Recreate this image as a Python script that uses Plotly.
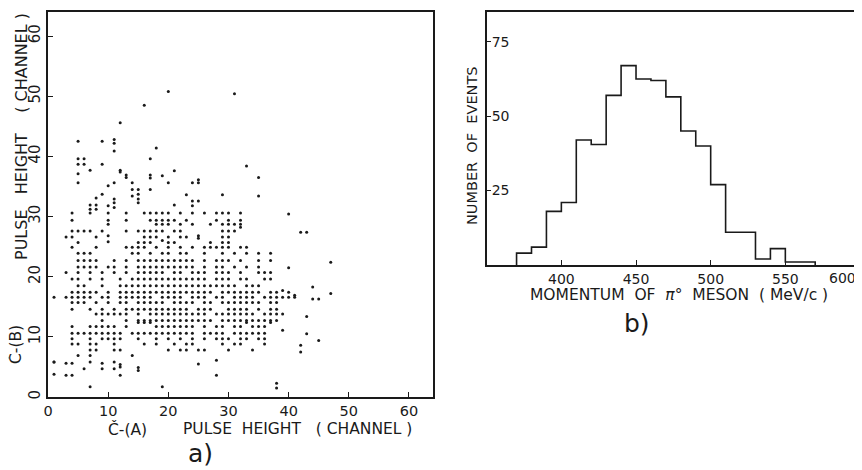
import plotly.graph_objects as go

# ---------------- panel a) scatter data (channel A, channel B) ----------------
chan_a = [
    20, 31, 16, 12, 5, 9, 11, 11, 11, 18, 5, 6, 5, 6, 9, 17, 33, 7, 12, 12, 21, 5, 5,
    13, 13, 17, 17, 19, 35, 10, 11, 20, 24, 25, 25, 14, 14, 14, 15, 15, 15, 15, 17,
    11, 11, 9, 8, 23, 29, 35, 24, 24, 25, 7, 8, 7, 8, 10, 11, 21,
    40, 42, 43, 47, 47, 40, 44, 44, 45, 43, 43, 45, 42, 42, 39, 38, 38, 19, 7, 1, 1,
    # row ~30.6
    4, 7, 10, 13, 16, 17, 18, 19, 20, 22, 24, 26, 28, 29, 30, 32,
    # row ~29.4
    4, 10, 13, 17, 18, 19, 20, 21, 23, 28, 30, 32,
    # row ~28.7
    10, 18, 19, 20, 22, 24, 27, 29, 30, 31, 32, 32,
    # row ~27.6
    4, 5, 6, 7, 9, 13, 15, 16, 17, 18, 19, 21, 22, 29, 30, 31,
    # row ~26.6
    3, 4, 8, 10, 10, 16, 17, 18, 19, 20, 22, 23, 25, 25, 29, 30,
    # row ~25.7
    5, 15, 16, 17, 20, 21, 27, 29, 30,
    # row ~24.9
    4, 8, 13, 14, 15, 16, 18, 20, 22, 24, 26, 27, 28, 29, 30, 32, 33,
    # row ~23.9
    5, 6, 7, 14, 15, 17, 19, 20, 22, 23, 26, 29, 31, 33, 35, 37,
    # row ~22.7
    5, 6, 7, 8, 11, 13, 15, 16, 17, 18, 19, 20, 21, 22, 23, 24, 26, 28, 29, 30, 32, 35, 37,
    # row ~21.6
    5, 6, 7, 8, 10, 11, 13, 15, 16, 17, 18, 19, 20, 21, 22, 23, 24, 26, 28, 29, 31, 33, 35,
    # row ~20.7
    3, 5, 7, 9, 11, 13, 15, 16, 17, 18, 19, 21, 22, 24, 25, 26, 28, 29, 30, 32, 35, 36, 37,
    # row ~19.6
    4, 5, 7, 9, 12, 14, 15, 16, 17, 18, 19, 20, 21, 22, 23, 24, 25, 26, 28, 29, 30, 32, 33, 36, 37,
    # row ~18.5
    5, 6, 9, 12, 13, 14, 15, 16, 17, 18, 19, 20, 21, 22, 23, 24, 25, 26, 27, 28, 29, 30, 31,
    33, 34, 35, 39,
    # row ~17.4
    4, 5, 6, 7, 8, 10, 12, 13, 14, 15, 16, 17, 18, 19, 20, 21, 22, 23, 24, 25, 26, 27, 29,
    30, 31, 32, 33, 34, 35, 37, 38, 40, 41,
    # row ~16.6
    3, 4, 5, 6, 7, 9, 10, 12, 13, 14, 15, 16, 17, 19, 20, 21, 22, 24, 25, 26, 28, 29, 31,
    32, 33, 34, 36, 37, 38, 39, 40, 41,
    # row ~15.7
    4, 5, 6, 8, 10, 12, 13, 15, 16, 17, 18, 19, 21, 22, 23, 24, 26, 27, 29, 30, 31, 32,
    33, 34, 35, 37, 38,
    # row ~14.6
    4, 7, 9, 11, 13, 14, 15, 16, 17, 18, 19, 20, 21, 22, 23, 25, 26, 27, 30, 31, 32, 33,
    35, 37, 38,
    # row ~13.8
    8, 9, 10, 11, 12, 13, 15, 17, 18, 19, 20, 21, 22, 23, 24, 25, 26, 28, 29, 30, 31, 32,
    33, 34, 36, 37, 38, 39,
    # row ~12.7
    9, 13, 15, 16, 17, 18, 19, 20, 21, 22, 23, 24, 25, 26, 27, 29, 30, 31, 32, 33, 34, 35,
    36, 37, 38,
    # row ~11.7
    4, 7, 8, 9, 10, 11, 13, 18, 19, 20, 21, 22, 23, 24, 26, 28, 29, 31, 32, 34, 35, 36,
    15, 16, 17, 33, 37,
    # row ~10.6
    4, 5, 6, 7, 8, 9, 10, 11, 12, 14, 15, 16, 17, 18, 19, 20, 21, 22, 23, 24, 26, 27, 28,
    29, 31, 32, 33, 34, 35, 36,
    # row ~9.7
    4, 7, 9, 10, 11, 12, 15, 18, 20, 22, 24, 26, 28, 29, 30, 32, 33, 35, 36,
    # row ~8.8
    4, 5, 7, 8, 11, 16, 18, 21, 23, 24, 29, 31, 32, 36,
    # row ~7.8
    7, 8, 11, 12, 20, 22, 23, 25, 26, 30, 34,
    # low rows
    5, 7, 14, 28,
    1, 3, 4, 7, 9, 11, 12, 25,
    6, 9, 11, 15, 15, 12,
    1, 3, 4, 12, 28,
]

chan_b = [
    50.8, 50.4, 48.5, 45.6, 42.5, 42.5, 42.8, 42.2, 40.9, 41.4, 39.6, 39.6, 38.7, 38.7,
    38.7, 39.6, 38.4, 37.7, 37.7, 37.4, 37.6, 37.1, 35.6,
    36.9, 36.5, 36.9, 36.4, 36.8, 36.5, 35.1, 35.6, 35.6, 35.6, 35.6, 36.1, 35.6, 34.5,
    33.4, 34.5, 33.7, 32.9, 32.3, 34.5,
    32.9, 32.3, 33.7, 33.1, 33.6, 33.6, 33.4, 32.6, 31.8, 32.6, 31.9, 31.9, 31.2, 31.2,
    31.8, 31.5, 31.9,
    30.4, 27.4, 27.4, 22.4, 17.2, 21.5, 18.3, 16.3, 16.3, 13.4, 10.5, 9.4, 8.6, 7.5,
    11.1, 2.3, 1.5, 1.7, 1.7, 16.6, 5.8,
] + [30.6] * 16 + [29.4] * 12 + [28.7] * 11 + [28.2] \
  + [27.6] * 16 \
  + [26.6, 26.6, 26.6, 26.8, 25.8, 26.6, 26.6, 26.6, 26.0, 26.6, 26.6, 26.6, 26.8, 26.4, 26.6, 26.6] \
  + [25.7] * 9 + [24.9] * 17 + [23.9] * 16 + [22.7] * 23 + [21.6] * 23 + [20.7] * 23 \
  + [19.6] * 25 + [18.5] * 26 + [17.7] \
  + [17.4] * 32 + [16.9] \
  + [16.6] * 32 + [15.7] * 27 + [14.6] * 25 + [13.8] * 28 + [12.7] * 25 \
  + [11.7] * 22 + [12.4] * 5 \
  + [10.6] * 30 + [9.7] * 19 + [8.8] * 14 + [7.8] * 11 \
  + [6.9, 6.9, 6.9, 6.1] \
  + [5.8, 5.6, 5.6, 5.8, 5.6, 5.8, 5.4, 5.5] \
  + [4.7, 4.7, 4.7, 4.9, 4.4, 5.0] \
  + [3.8, 3.6, 3.6, 3.6, 3.6]

# ---------------- panel b) histogram data ----------------
bin_edges = [370, 380, 390, 400, 410, 420, 430, 440, 450, 460, 470,
             480, 490, 500, 510, 520, 530, 540, 550, 560, 570]
counts = [4, 6, 18, 21, 42, 40.5, 57, 67, 62.5, 62, 56.5,
          45, 40, 27, 11, 11, 2, 5.5, 1, 1]

a_ticks = [0, 10, 20, 30, 40, 50, 60]
b_xticks = [350, 400, 450, 500, 550]
b_yticks = [25, 50, 75]

FONT = "DejaVu Sans"
INK = "#1a1a1a"

# the page body adds an 8 px margin, so the figure is laid out 8 px up/left
OFF = 8
W, H = 862 - OFF, 470 - OFF


def px(x):
    return (x - OFF) / W


def py(y):
    return (470 - y) / H


fig = go.Figure()

fig.add_trace(go.Scatter(
    x=chan_a, y=chan_b, mode="markers",
    marker=dict(size=3, color=INK, line=dict(width=0)),
    xaxis="x", yaxis="y", showlegend=False, hoverinfo="skip"))

hx = [bin_edges[0]] + bin_edges
hy = [0] + counts + [0]
fig.add_trace(go.Scatter(
    x=hx, y=hy, mode="lines", line=dict(shape="hv", color=INK, width=1.6),
    xaxis="x2", yaxis="y2", showlegend=False, hoverinfo="skip"))

axis_common = dict(showgrid=False, zeroline=False, showline=True, mirror=True,
                   linecolor=INK, linewidth=1.5, ticks="inside", ticklen=5,
                   tickwidth=1.4, tickcolor=INK, automargin=False)

fig.update_layout(
    width=W, height=H,
    margin=dict(l=0, r=0, t=0, b=0, pad=0, autoexpand=False),
    paper_bgcolor="white", plot_bgcolor="white",
    xaxis=dict(domain=[px(48), px(433)], range=[0, 64], tickvals=a_ticks,
               anchor="y", tickfont=dict(family=FONT, size=14.5, color=INK),
               **axis_common),
    yaxis=dict(domain=[py(397), py(12)], range=[0, 64], tickvals=a_ticks,
               tickangle=-90, anchor="x",
               tickfont=dict(family=FONT, size=15, color=INK), **axis_common),
    xaxis2=dict(domain=[px(486.7), px(860)], range=[350, 600], tickvals=b_xticks,
                anchor="y2", tickfont=dict(family=FONT, size=14, color=INK),
                **axis_common),
    yaxis2=dict(domain=[py(265), py(12)], range=[0, 85], tickvals=b_yticks,
                ticklabelposition="inside", anchor="x2",
                tickfont=dict(family=FONT, size=14, color=INK), **axis_common),
)


def note(text, x, y, size=15, angle=0, **kw):
    fig.add_annotation(text=text, x=px(x), y=py(y), xref="paper", yref="paper",
                       showarrow=False, textangle=angle,
                       font=dict(family=FONT, size=size, color=INK),
                       xanchor="center", yanchor="middle", **kw)


# panel a labels
note("PULSE   HEIGHT    ( CHANNEL )", 21, 137, size=16, angle=-90)
note("Č-(B)", 15, 345, size=15.5, angle=-90)
note("Č-(A)", 128, 429, size=15.5)
note("PULSE  HEIGHT   ( CHANNEL )", 297, 429, size=15.5)
note("a)", 200, 453, size=25)

# panel b labels
note("NUMBER  OF  EVENTS", 472, 146, size=14.5, angle=-90)
note("MOMENTUM  OF  <i>π</i>°  MESON  ( MeV/c )", 679, 295, size=15.5)
note("b)", 637, 324, size=25)
fig.add_annotation(text="600", x=600, y=0, xref="x2", yref="y2", showarrow=False,
                   xanchor="right", yanchor="top", yshift=-3, xshift=-2,
                   font=dict(family=FONT, size=14, color=INK))

fig.write_html("out.html")
